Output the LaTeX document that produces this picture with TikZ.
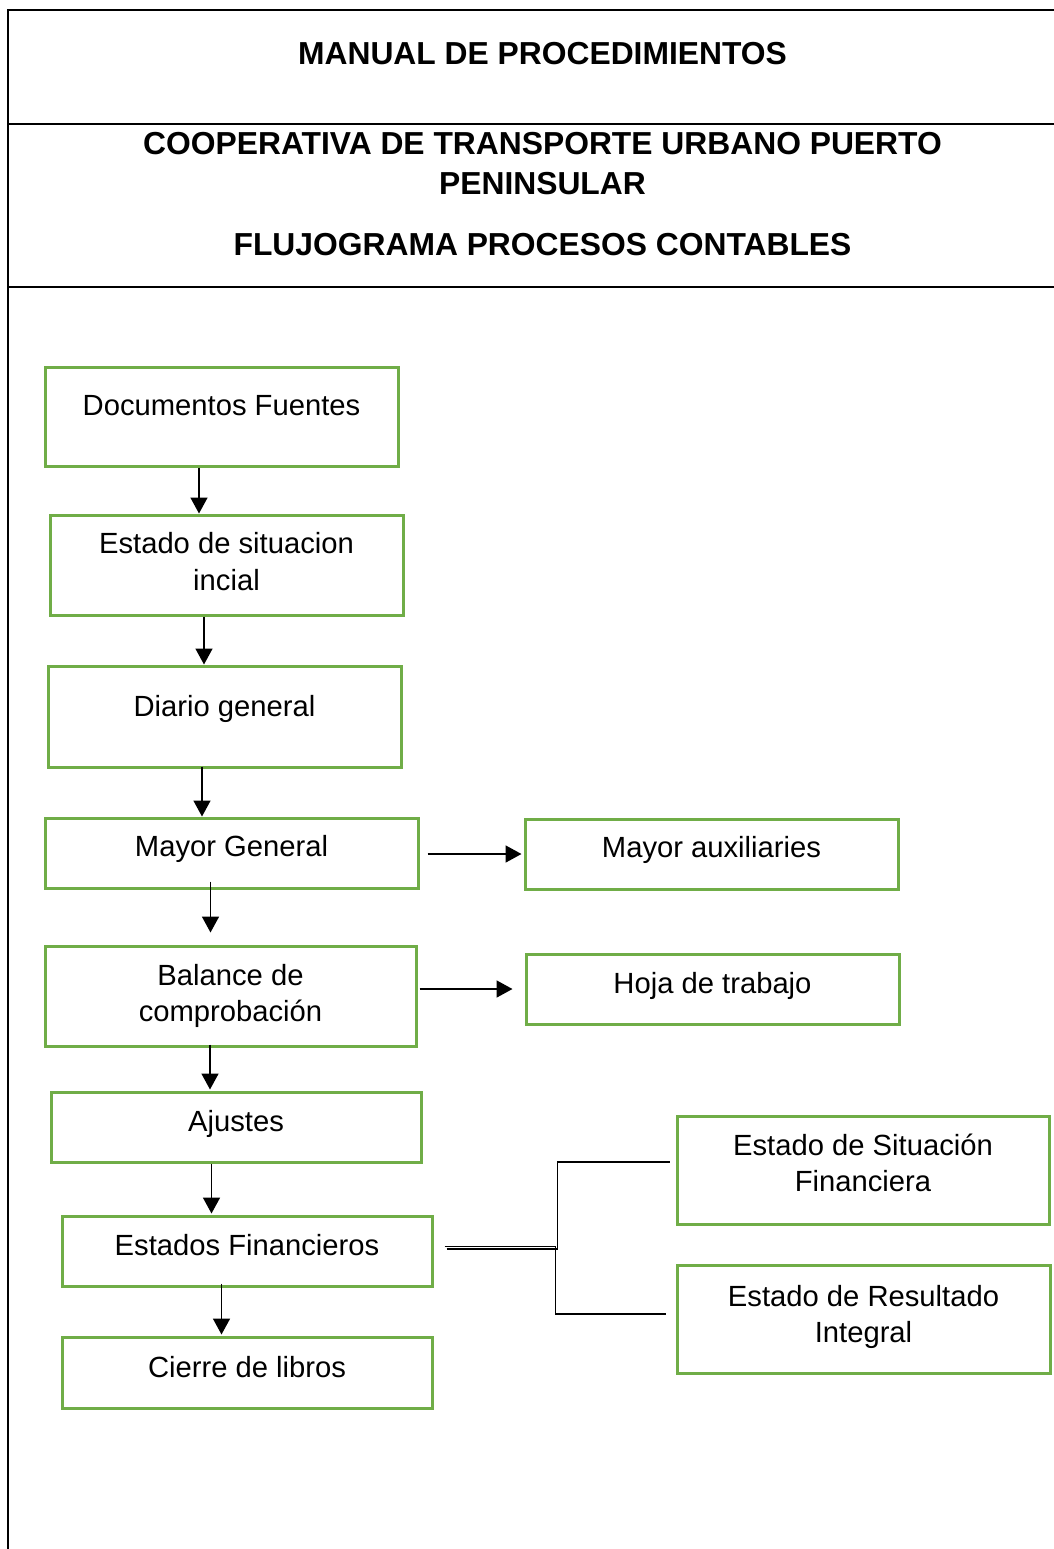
\documentclass[tikz,border=0pt]{standalone}
\usepackage{fontspec}
\setmainfont{Liberation Sans}
\usetikzlibrary{arrows.meta}
\definecolor{boxgreen}{HTML}{70AD47}
\tikzset{
  frameline/.style={line width=2pt, black},
  stepbox/.style={draw=boxgreen, line width=3pt, rectangle, inner sep=0pt},
  btxt/.style={anchor=base, inner sep=0pt, font=\fontsize{29.2}{35}\selectfont},
  ttl/.style={anchor=base, inner sep=0pt, font=\fontsize{31.8}{38}\selectfont\bfseries},
  arr/.style={line width=1.7pt, -{Triangle[width=17pt,length=16pt]}},
  link/.style={line width=1.4pt}
}
\begin{document}
\begin{tikzpicture}[x=1pt, y=-1pt]
\useasboundingbox (0,0) rectangle (1054,1549);

% header frame
\draw[frameline] (1054,10) -- (7.5,10) -- (7.5,1549);
\draw[frameline] (7.5,124) -- (1054,124);
\draw[frameline] (7.5,287) -- (1054,287);

\node[ttl] (h1) at (542.5,65)  {MANUAL DE PROCEDIMIENTOS};
\node[ttl] (h2) at (542.5,155) {COOPERATIVA DE TRANSPORTE URBANO PUERTO};
\node[ttl] (h3) at (542.5,194) {PENINSULAR};
\node[ttl] (h4) at (542.5,255) {FLUJOGRAMA PROCESOS CONTABLES};

% process boxes
\node[stepbox, minimum width=353pt, minimum height=99pt]  (b1)  at (221.5,416.5) {};
\node[stepbox, minimum width=353pt, minimum height=100pt] (b2)  at (226.5,565)   {};
\node[stepbox, minimum width=353pt, minimum height=101pt] (b3)  at (224.5,716.5) {};
\node[stepbox, minimum width=373pt, minimum height=70pt]  (b4)  at (231.5,853)   {};
\node[stepbox, minimum width=373pt, minimum height=70pt]  (b5)  at (711.5,854)   {};
\node[stepbox, minimum width=371pt, minimum height=100pt] (b6)  at (230.5,996)   {};
\node[stepbox, minimum width=373pt, minimum height=70pt]  (b7)  at (712.5,989)   {};
\node[stepbox, minimum width=370pt, minimum height=70pt]  (b8)  at (236,1127)    {};
\node[stepbox, minimum width=370pt, minimum height=70pt]  (b9)  at (247,1251)    {};
\node[stepbox, minimum width=370pt, minimum height=71pt]  (b10) at (247,1372.5)  {};
\node[stepbox, minimum width=372pt, minimum height=108pt] (b11) at (863,1170)    {};
\node[stepbox, minimum width=373pt, minimum height=108pt] (b12) at (863.5,1319)  {};

% box labels
\node[btxt] (t1)  at (b1 |- 0,415)   {Documentos Fuentes};
\node[btxt] (t2a) at (b2 |- 0,553)   {Estado de situacion};
\node[btxt] (t2b) at (b2 |- 0,590)   {incial};
\node[btxt] (t3)  at (b3 |- 0,716)   {Diario general};
\node[btxt] (t4)  at (b4 |- 0,856)   {Mayor General};
\node[btxt] (t5)  at (b5 |- 0,857)   {Mayor auxiliaries};
\node[btxt] (t6a) at (b6 |- 0,985)   {Balance de};
\node[btxt] (t6b) at (b6 |- 0,1021)  {comprobación};
\node[btxt] (t7)  at (b7 |- 0,993)   {Hoja de trabajo};
\node[btxt] (t8)  at (b8 |- 0,1131)  {Ajustes};
\node[btxt] (t9)  at (b9 |- 0,1255)  {Estados Financieros};
\node[btxt] (t10) at (b10 |- 0,1377) {Cierre de libros};
\node[btxt] (t11a) at (b11 |- 0,1155) {Estado de Situación};
\node[btxt] (t11b) at (b11 |- 0,1191) {Financiera};
\node[btxt] (t12a) at (b12 |- 0,1306) {Estado de Resultado};
\node[btxt] (t12b) at (b12 |- 0,1342) {Integral};

% main flow
\draw[arr] (b1.south -| 199,0) -- (b2.north -| 199,0);
\draw[arr] (b2.south -| 204,0) -- (b3.north -| 204,0);
\draw[arr] ([yshift=2pt]b3.south -| 202,0) -- (b4.north -| 202,0);
\draw[arr] ([yshift=8pt]b4.south -| 210.5,0) -- ([yshift=12pt]b6.north -| 210.5,0);
\draw[arr] ([yshift=3pt]b6.south -| 210,0) -- ([yshift=1pt]b8.north -| 210,0);
\draw[arr] (b8.south -| 211.5,0) -- ([yshift=1pt]b9.north -| 211.5,0);
\draw[arr] ([yshift=4pt]b9.south -| 221.5,0) -- ([yshift=1pt]b10.north -| 221.5,0);

% side branches
\draw[arr] ([xshift=8pt]b4.east |- 0,854) -- ([xshift=-2pt]b5.west |- 0,854);
\draw[arr] ([xshift=2pt]b6.east |- 0,989) -- ([xshift=-12pt]b7.west |- 0,989);

% split towards the financial statements
\coordinate (jA1) at (557.7,1249);
\coordinate (jA2) at (557.7,1162);
\coordinate (jB1) at (555.3,1246.7);
\coordinate (jB2) at (555.3,1314);
\draw[link] ([xshift=13pt]b9.east |- jA1) -- (jA1) -- (jA2) -- ([xshift=-6pt]b11.west |- jA2);
\draw[link] ([xshift=11pt]b9.east |- jB1) -- (jB1) -- (jB2) -- ([xshift=-10pt]b12.west |- jB2);
\end{tikzpicture}
\end{document}
